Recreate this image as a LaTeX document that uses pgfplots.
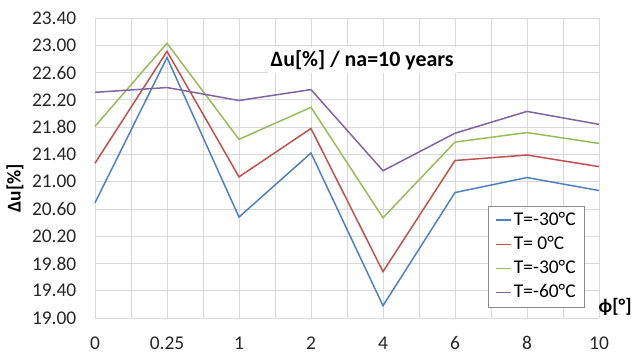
\documentclass[border=0pt]{standalone}
\usepackage{fontspec}
\setmainfont{Carlito}
\usepackage{pgfplots}
\pgfplotsset{compat=1.18}
\definecolor{serBlue}{HTML}{4F81BD}
\definecolor{serRed}{HTML}{C0504D}
\definecolor{serGreen}{HTML}{9BBB59}
\definecolor{serPurple}{HTML}{8064A2}
\definecolor{gridGray}{HTML}{D9D9D9}
\begin{document}
\begin{tikzpicture}
\fontsize{19.5}{23}\selectfont
\path[use as bounding box] (0bp,0bp) rectangle (632bp,355bp);
\begin{axis}[
  at={(95bp,37bp)}, anchor=south west,
  scale only axis, width=504bp, height=300bp,
  xmin=0, xmax=7, ymin=19, ymax=23.4,
  clip=false,
  axis line style={draw=none},
  xtick={0,...,7},
  xticklabels={0,0.25,1,2,4,6,8,10},
  minor x tick num=1,
  ytick={19.0,19.4,...,23.41},
  major tick length=0pt, minor tick length=0pt,
  grid=both,
  major grid style={gridGray, line width=0.8pt},
  minor grid style={gridGray, line width=0.8pt},
  /pgf/number format/assume math mode=true,
  y tick label style={/pgf/number format/fixed, /pgf/number format/fixed zerofill,
    /pgf/number format/precision=2, xshift=-12bp},
  x tick label style={yshift=-12bp},
  tick label style={font=\fontsize{19.5}{23}\selectfont, text=black!85},
  legend style={at={(axis description cs:0.972,0.037)}, anchor=south east,
    draw=black!45, fill=white, font=\fontsize{19.5}{22}\selectfont,
    inner xsep=7bp, inner ysep=4bp, row sep=4bp},
  legend cell align=left,
  legend image code/.code={\draw[#1] (0bp,0bp) -- (15bp,0bp);},
  every axis plot/.append style={line width=1.5pt},
]
\addplot[serBlue] coordinates {(0,20.69) (1,22.82) (2,20.48) (3,21.42) (4,19.18) (5,20.84) (6,21.06) (7,20.87)};
\addlegendentry{T=-30°C}
\addplot[serRed] coordinates {(0,21.27) (1,22.91) (2,21.07) (3,21.78) (4,19.68) (5,21.31) (6,21.39) (7,21.22)};
\addlegendentry{T= 0°C}
\addplot[serGreen] coordinates {(0,21.81) (1,23.03) (2,21.62) (3,22.09) (4,20.47) (5,21.58) (6,21.72) (7,21.56)};
\addlegendentry{T=-30°C}
\addplot[serPurple] coordinates {(0,22.31) (1,22.38) (2,22.19) (3,22.35) (4,21.16) (5,21.71) (6,22.03) (7,21.84)};
\addlegendentry{T=-60°C}
\node[font=\bfseries\fontsize{22}{26}\selectfont, fill=white, inner sep=3bp]
  at (axis description cs:0.53,0.86) {Δu[\%] / na=10 years};
\node[font=\bfseries\fontsize{19.5}{23}\selectfont, rotate=90]
  at (axis description cs:-0.159,0.433) {Δu[\%]};
\node[font=\bfseries\fontsize{19.5}{23}\selectfont]
  at (axis description cs:1.032,0.037) {ϕ[°]};
\end{axis}
\end{tikzpicture}
\end{document}
